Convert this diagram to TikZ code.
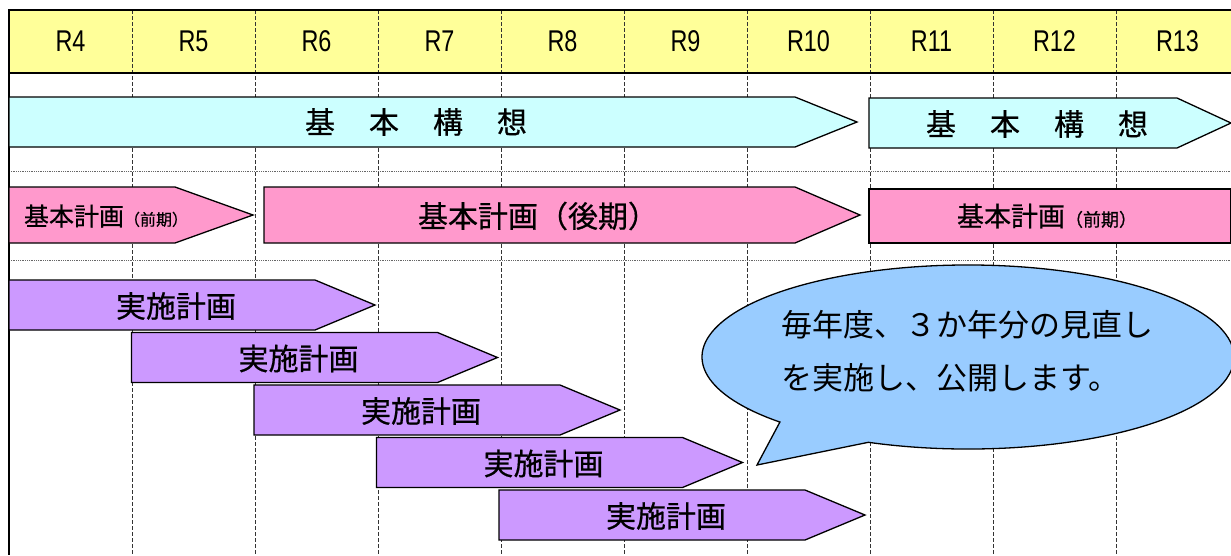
\documentclass[tikz,border=0pt]{standalone}
\usepackage{fontspec}
\setmainfont{Noto Sans CJK JP}
\newfontfamily\gothic[FakeBold=0.6]{Noto Sans CJK JP}
\newfontfamily\yearfont[FakeStretch=0.78]{Liberation Sans}
\usetikzlibrary{positioning}
\definecolor{headyellow}{HTML}{FFFF99}
\definecolor{kousoucyan}{HTML}{CCFFFF}
\definecolor{keikakupink}{HTML}{FF99CC}
\definecolor{jisshipurple}{HTML}{CC99FF}
\definecolor{calloutblue}{HTML}{99CCFF}
\newcommand{\kgap}{\hspace{34pt}}
\newcommand{\zenki}[2]{{\fontsize{#1}{#1}\selectfont 基本計画}{\fontsize{#2}{#2}\selectfont （前期）}}

\begin{document}
\begin{tikzpicture}[x=1pt, y=-1pt] %Schedule
    \tikzstyle{yearlabel} = [font=\yearfont\fontsize{30}{30}\selectfont, inner sep=0pt]
    \tikzstyle{barlabel} = [font=\gothic\fontsize{30}{30}\selectfont, inner sep=0pt]
    \tikzstyle{bar} = [draw, line width=1.3pt, line join=miter]
    \tikzstyle{gridline} = [dash pattern=on 4pt off 2pt, line width=0.8pt, black!80]
    \tikzstyle{rowline} = [densely dotted, line width=0.8pt, black!60]
    \useasboundingbox (0,0) rectangle (1231,555);
    \clip (0,0) rectangle (1231,555);
    % header and grid
    \fill[headyellow] (9,10) rectangle (1231,73);
    \foreach \x in {132,255,...,1116}
        \draw[gridline] (\x,10) -- (\x,555);
    \foreach \y in {171,260}
        \draw[rowline] (9,\y) -- (1231,\y);
    \draw[line width=1.6pt] (1231,10) -- (9,10) -- (9,555);
    \draw[line width=1.6pt] (9,73) -- (1231,73);
    \foreach \yr [count=\i from 0] in {4,...,13}
        \node[yearlabel] (r\yr) at (70.5+123*\i,41) {R\yr};
    % kihon kousou
    \filldraw[bar, fill=kousoucyan] (9,97) -- (795,97) -- (857,122) -- (795,147) -- (9,147) -- cycle;
    \node[barlabel] (kousouA) at (416,122) {基\kgap 本\kgap 構\kgap 想};
    \filldraw[bar, fill=kousoucyan] (869,98) -- (1177,98) -- (1231,123) -- (1177,148) -- (869,148) -- cycle;
    \node[barlabel] (kousouB) at (1037,124) {基\kgap 本\kgap 構\kgap 想};
    % kihon keikaku
    \filldraw[bar, fill=keikakupink] (9,187) -- (175,187) -- (253,215) -- (175,243) -- (9,243) -- cycle;
    \node[inner sep=0pt, font=\gothic] (zenkiA) at (106,216) {\zenki{25}{16}};
    \filldraw[bar, fill=keikakupink] (264,187) -- (795,187) -- (860,215) -- (795,243) -- (264,243) -- cycle;
    \node[barlabel] (kouki) at (538,216) {基本計画（後期）};
    \filldraw[bar, fill=keikakupink] (869,189) rectangle (1231,243);
    \node[inner sep=0pt, font=\gothic] (zenkiB) at (1047,216) {\zenki{27}{18}};
    % jisshi keikaku
    \foreach \i in {0,...,4}
    {
        \pgfmathsetmacro\xs{9+122.5*\i}
        \pgfmathsetmacro\ys{280+52.5*\i}
        \filldraw[bar, fill=jisshipurple] (\xs,\ys) -- ++(306,0) -- ++(60,25) -- ++(-60,25) -- ++(-306,0) -- cycle;
        \node[barlabel] (jisshi\i) at (\xs+167,\ys+26) {実施計画};
    }
    % callout
    \filldraw[bar, fill=calloutblue] (968,357) ++(112:266 and 92)
        arc[start angle=112, end angle=-225, x radius=266, y radius=92] -- (757,465) -- cycle;
    \node[anchor=west, align=left, inner sep=0pt, font=\fontsize{31}{53}\selectfont] (memo) at (781,351)
        {毎年度、３か年分の見直し\\を実施し、公開します。};
\end{tikzpicture}
\end{document}
